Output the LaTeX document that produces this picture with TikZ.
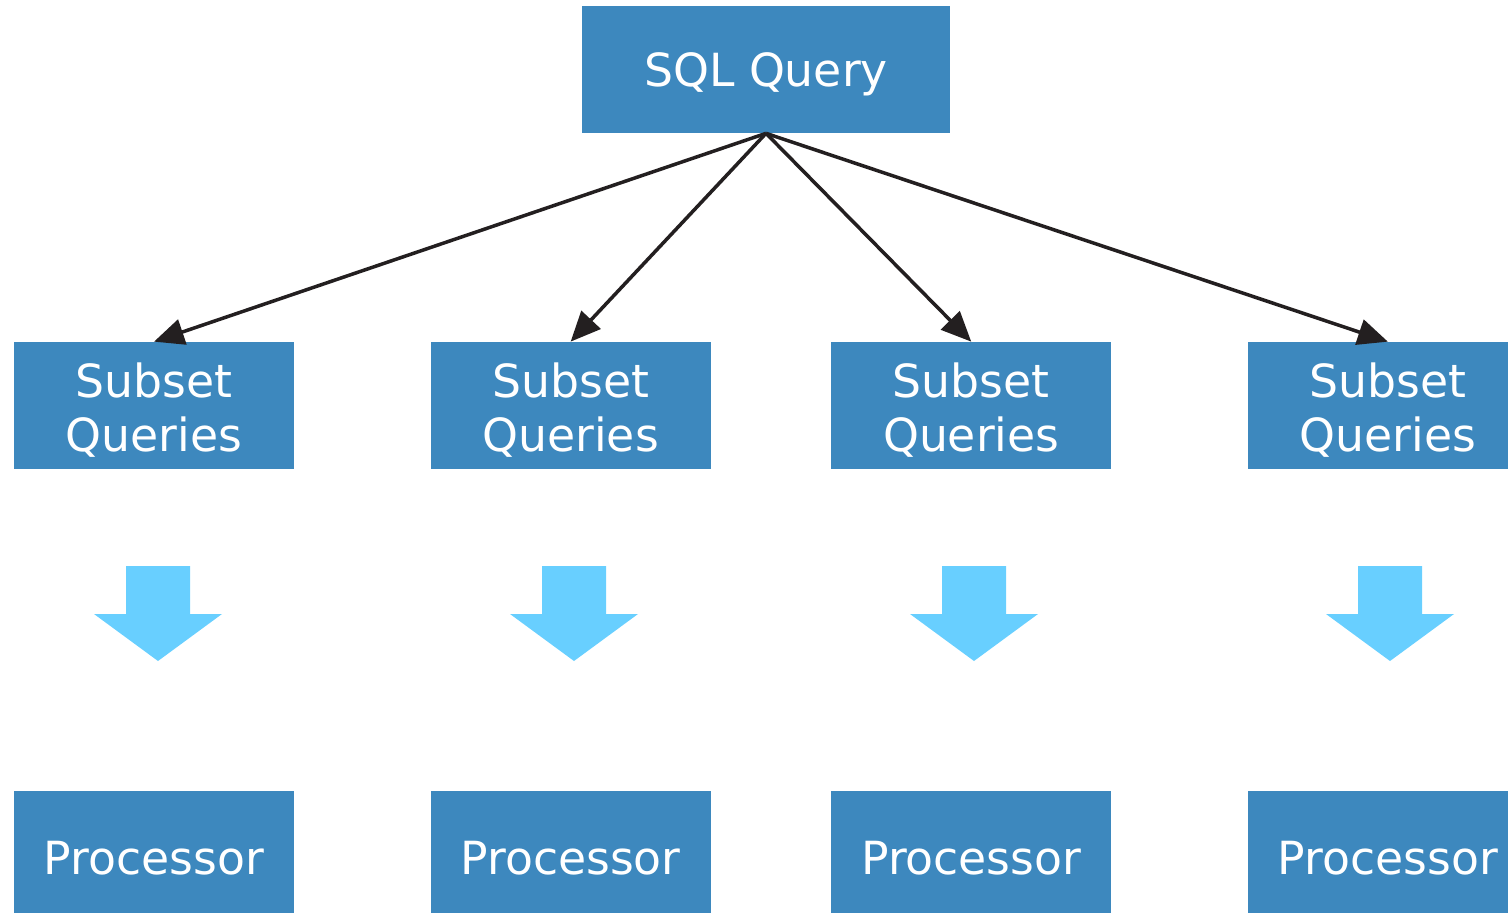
\documentclass[tikz,border=0pt]{standalone}
\usepackage{fontspec}
\setmainfont{DejaVu Sans}
\usepackage{tikz}
\usetikzlibrary{arrows.meta,positioning}

\definecolor{boxblue}{RGB}{61,136,190}
\definecolor{arrowblue}{RGB}{104,207,255}
\definecolor{linkdark}{RGB}{35,31,32}

% downward block arrow, #1 = top centre of its shaft
\newcommand{\blockarrow}[1]{%
  \fill[arrowblue] (#1) ++(-32,0) -- ++(64,0) -- ++(0,48) -- ++(32,0)
    -- ++(-64,47) -- ++(-64,-47) -- ++(32,0) -- cycle;}

\begin{document}
\begin{tikzpicture}[x=0.02cm, y=-0.02cm,
    blockbox/.style={fill=boxblue, text=white, inner sep=0pt, align=center,
      minimum width=5.6cm, minimum height=2.54cm,
      font=\fontsize{26}{30.7}\selectfont},
    procbox/.style={blockbox, minimum height=2.44cm, text height=25.5pt, text depth=0pt},
    link/.style={-{Triangle[length=0.6cm, width=0.52cm]}, line width=2pt, draw=linkdark}]
  \clip (0,0) rectangle (1508,913);

  % query on top
  \node[blockbox, minimum width=7.36cm, text height=25.5pt, text depth=6.1pt] (sql) at (766,69.5) {SQL Query};

  % subset queries
  \node[blockbox] (sub1) at (154,405.5) {\rule{0pt}{24.5pt}Subset\\Queries};
  \node[blockbox, right=2.72cm of sub1] (sub2) {\rule{0pt}{24.5pt}Subset\\Queries};
  \node[blockbox, right=2.4cm of sub2] (sub3) {\rule{0pt}{24.5pt}Subset\\Queries};
  \node[blockbox, right=2.72cm of sub3] (sub4) {\rule{0pt}{24.5pt}Subset\\Queries};

  % processors
  \node[procbox, below=6.42cm of sub1] (proc1) {Processor};
  \node[procbox, below=6.42cm of sub2] (proc2) {Processor};
  \node[procbox, below=6.42cm of sub3] (proc3) {Processor};
  \node[procbox, below=6.42cm of sub4] (proc4) {Processor};

  % splitting arrows
  \draw[link] (sql.south) -- (sub1.north);
  \draw[link] (sql.south) -- (sub2.north);
  \draw[link] (sql.south) -- (sub3.north);
  \draw[link] (sql.south) -- (sub4.north);

  % block arrows
  \blockarrow{158,566}
  \blockarrow{574,566}
  \blockarrow{974,566}
  \blockarrow{1390,566}
\end{tikzpicture}
\end{document}
